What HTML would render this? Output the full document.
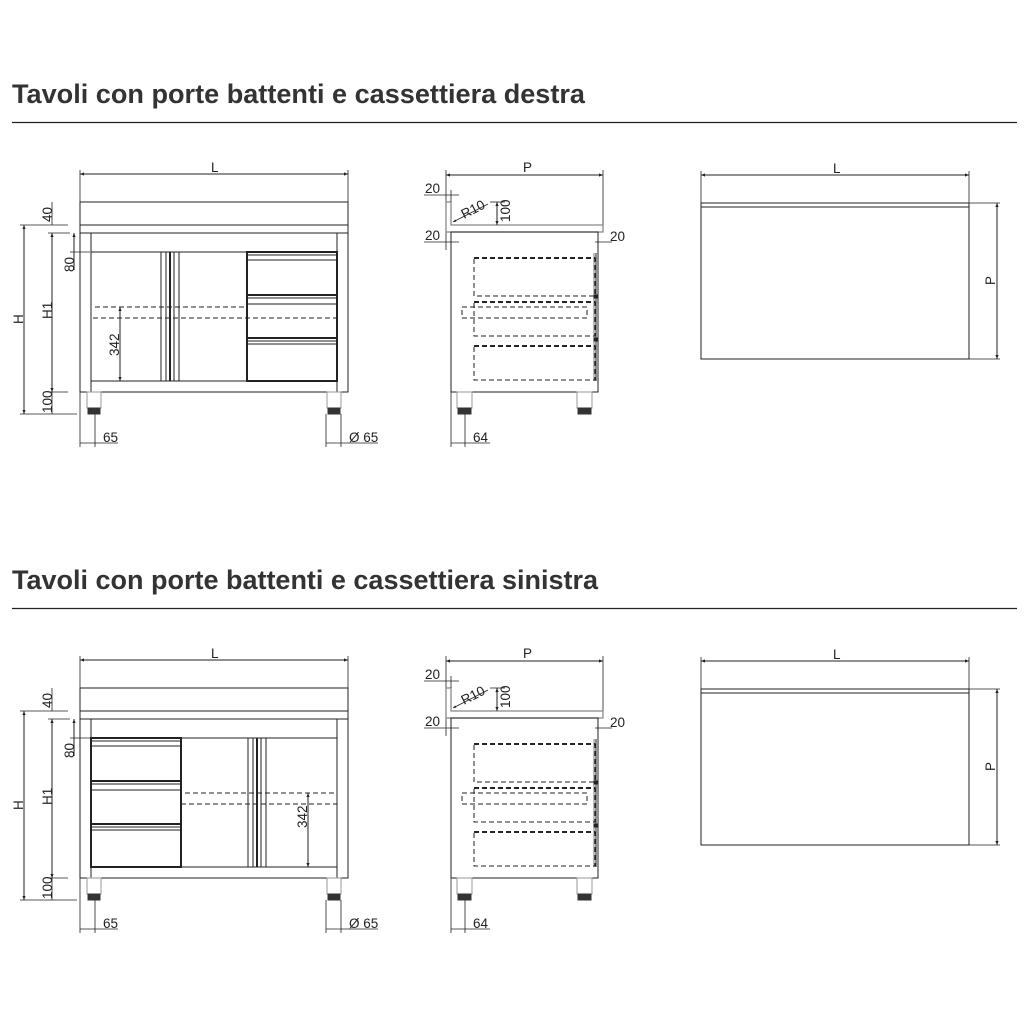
<!DOCTYPE html>
<html><head><meta charset="utf-8"><style>
html,body{margin:0;padding:0;background:#fff;width:1029px;height:1031px;overflow:hidden}
svg{display:block}
text{font-family:"Liberation Sans",Arial,sans-serif;fill:#222}
</style></head><body>
<svg width="1029" height="1031" viewBox="0 0 1029 1031" xmlns="http://www.w3.org/2000/svg">
<defs>
<marker id="a" viewBox="0 0 10 10" refX="10" refY="5" markerWidth="6" markerHeight="4" orient="auto-start-reverse"><path d="M0,1 L10,5 L0,9z" fill="#222"/></marker>

<g id="side" fill="none" stroke="#222" stroke-width="1">
  <line x1="446" y1="175" x2="603" y2="175" marker-start="url(#a)" marker-end="url(#a)"/>
  <line x1="446" y1="170" x2="446" y2="250" stroke-width="0.8"/>
  <line x1="603" y1="170" x2="603" y2="232" stroke-width="0.8"/>
  <path d="M446,202 L451,202 L451,225 L603,225 L603,232 L446,232 Z" stroke="#888" stroke-width="1.3"/>
  <rect x="451" y="232" width="147" height="160"/>
  <g stroke-dasharray="5,3">
    <rect x="474" y="258" width="121" height="38"/>
    <rect x="474" y="302" width="121" height="34"/>
    <rect x="474" y="346" width="121" height="34"/>
    <rect x="462" y="307" width="125" height="11"/>
  </g>
  <g stroke-dasharray="5,3" stroke-width="2">
    <line x1="474" y1="258" x2="595" y2="258"/>
    <line x1="474" y1="302" x2="595" y2="302"/>
    <line x1="474" y1="346" x2="595" y2="346"/>
  </g>
  <line x1="596" y1="253" x2="596" y2="381"/>
  <line x1="594" y1="253" x2="594" y2="381" stroke-width="0.6"/>
  <rect x="594" y="295" width="3" height="3" fill="#222"/>
  <rect x="594" y="338" width="3" height="3" fill="#222"/>
  <rect x="457" y="392" width="15" height="16" stroke="#999"/>
  <rect x="458" y="408" width="13" height="6" fill="#333" stroke="#333"/>
  <rect x="577" y="392" width="15" height="16" stroke="#999"/>
  <rect x="578" y="408" width="13" height="6" fill="#333" stroke="#333"/>
  <line x1="424" y1="195" x2="459" y2="195" stroke-width="0.8"/>
  <line x1="451" y1="190" x2="451" y2="202" stroke-width="0.8"/>
  <line x1="424" y1="242" x2="459" y2="242" stroke-width="0.8"/>
  <line x1="451" y1="236" x2="451" y2="252" stroke-width="0.8"/>
  <line x1="595" y1="242" x2="612" y2="242" stroke-width="0.8"/>
  <line x1="598" y1="236" x2="598" y2="250" stroke-width="0.8"/>
  <line x1="453" y1="222" x2="488" y2="204" stroke-width="0.8" marker-start="url(#a)"/>
  <line x1="497" y1="202" x2="497" y2="225" marker-start="url(#a)" marker-end="url(#a)"/>
  <line x1="490" y1="202" x2="505" y2="202" stroke-width="0.8"/>
  <line x1="451" y1="392" x2="451" y2="447" stroke-width="0.8"/>
  <line x1="465" y1="414" x2="465" y2="447" stroke-width="0.8"/>
  <line x1="451" y1="443" x2="490" y2="443" stroke-width="0.8"/>
</g>
<g id="sidet" font-size="13.5">
  <text x="425" y="193">20</text>
  <text x="425" y="240">20</text>
  <text x="610" y="241">20</text>
  <text x="523" y="172">P</text>
  <text x="473" y="442">64</text>
  <text transform="translate(464,219) rotate(-27)">R10</text>
  <text transform="translate(510,222) rotate(-90)">100</text>
</g>

<g id="topv" fill="none" stroke="#222" stroke-width="1">
  <line x1="701" y1="175" x2="969" y2="175" marker-start="url(#a)" marker-end="url(#a)"/>
  <line x1="701" y1="171" x2="701" y2="203" stroke-width="0.8"/>
  <line x1="969" y1="171" x2="969" y2="203" stroke-width="0.8"/>
  <rect x="701" y="203" width="268" height="156"/>
  <line x1="701" y1="207" x2="969" y2="207"/>
  <line x1="997" y1="203" x2="997" y2="359" marker-start="url(#a)" marker-end="url(#a)"/>
  <line x1="969" y1="203" x2="1000" y2="203" stroke-width="0.8"/>
  <line x1="969" y1="359" x2="1000" y2="359" stroke-width="0.8"/>
</g>
<g id="topt" font-size="13.5">
  <text x="833" y="173">L</text>
  <text transform="translate(995,285) rotate(-90)">P</text>
</g>

<g id="frame" fill="none" stroke="#222" stroke-width="1">
  <line x1="80" y1="174" x2="348" y2="174" marker-start="url(#a)" marker-end="url(#a)"/>
  <line x1="80" y1="170" x2="80" y2="202" stroke-width="0.8"/>
  <line x1="348" y1="170" x2="348" y2="202" stroke-width="0.8"/>
  <rect x="80" y="202" width="268" height="23"/>
  <rect x="80" y="225" width="268" height="8"/>
  <rect x="80" y="233" width="268" height="159"/>
  <line x1="91" y1="233" x2="91" y2="392"/>
  <line x1="337" y1="233" x2="337" y2="392"/>
  <rect x="91" y="252" width="246" height="129"/>
  <rect x="87" y="392" width="14" height="16" stroke="#999"/>
  <rect x="88" y="408" width="12" height="6" fill="#333" stroke="#333"/>
  <rect x="327" y="392" width="14" height="16" stroke="#999"/>
  <rect x="328" y="408" width="12" height="6" fill="#333" stroke="#333"/>
  <line x1="24" y1="225" x2="24" y2="414" marker-start="url(#a)" marker-end="url(#a)"/>
  <line x1="20" y1="225" x2="68" y2="225" stroke-width="0.8"/>
  <line x1="20" y1="414" x2="77" y2="414" stroke-width="0.8"/>
  <line x1="52" y1="233" x2="52" y2="392" marker-start="url(#a)" marker-end="url(#a)"/>
  <line x1="52" y1="202" x2="52" y2="225" stroke-width="0.8"/>
  <line x1="48" y1="233" x2="70" y2="233" stroke-width="0.8"/>
  <line x1="48" y1="392" x2="68" y2="392" stroke-width="0.8"/>
  <line x1="52" y1="392" x2="52" y2="414" stroke-width="0.8"/>
  <line x1="74" y1="233" x2="74" y2="270" marker-start="url(#a)"/>
  <line x1="70" y1="252" x2="90" y2="252" stroke-width="0.8"/>
  <line x1="80" y1="392" x2="80" y2="447" stroke-width="0.8"/>
  <line x1="95" y1="414" x2="95" y2="447" stroke-width="0.8"/>
  <line x1="80" y1="443" x2="118" y2="443" stroke-width="0.8"/>
  <line x1="326" y1="414" x2="326" y2="447" stroke-width="0.8"/>
  <line x1="341" y1="414" x2="341" y2="447" stroke-width="0.8"/>
  <line x1="326" y1="443" x2="378" y2="443" stroke-width="0.8"/>
</g>
<g id="framet" font-size="13.5">
  <text x="211" y="172">L</text>
  <text transform="translate(23,324) rotate(-90)">H</text>
  <text transform="translate(52,319) rotate(-90)">H1</text>
  <text transform="translate(52,222) rotate(-90)">40</text>
  <text transform="translate(52,413) rotate(-90)">100</text>
  <text transform="translate(74,272) rotate(-90)">80</text>
  <text x="103" y="442">65</text>
  <text x="349" y="442">Ø 65</text>
</g>

<g id="drawers" fill="none" stroke="#222">
  <rect x="0" y="252" width="90" height="129" stroke-width="2"/>
  <line x1="0" y1="255" x2="90" y2="255"/>
  <line x1="0" y1="260" x2="90" y2="260"/>
  <line x1="0" y1="295" x2="90" y2="295" stroke-width="2"/>
  <line x1="0" y1="298" x2="90" y2="298"/>
  <line x1="0" y1="304" x2="90" y2="304"/>
  <line x1="0" y1="338" x2="90" y2="338" stroke-width="2"/>
  <line x1="0" y1="341" x2="90" y2="341"/>
  <line x1="0" y1="344" x2="90" y2="344"/>
</g>
<g id="stiles" stroke="#222" stroke-width="1">
  <line x1="0" y1="252" x2="0" y2="381"/>
  <line x1="5" y1="252" x2="5" y2="381"/>
  <line x1="9" y1="252" x2="9" y2="381" stroke-width="2"/>
  <line x1="13" y1="252" x2="13" y2="381"/>
  <line x1="18" y1="252" x2="18" y2="381"/>
</g>
</defs>

<text x="12" y="103" font-size="27" font-weight="bold" style="fill:#333" textLength="573" lengthAdjust="spacingAndGlyphs">Tavoli con porte battenti e cassettiera destra</text>
<line x1="12" y1="122.5" x2="1017" y2="122.5" stroke="#222" stroke-width="1.2"/>
<text x="12" y="589" font-size="27" font-weight="bold" style="fill:#333" textLength="586" lengthAdjust="spacingAndGlyphs">Tavoli con porte battenti e cassettiera sinistra</text>
<line x1="12" y1="608.5" x2="1017" y2="608.5" stroke="#222" stroke-width="1.2"/>

<use href="#side"/><use href="#sidet"/><use href="#topv"/><use href="#topt"/><use href="#frame"/><use href="#framet"/>
<use href="#drawers" x="247"/>
<use href="#stiles" x="161"/>
<g fill="none" stroke="#222" stroke-width="1">
  <line x1="247" y1="252" x2="247" y2="381" stroke-width="2"/>
  <line x1="95" y1="307" x2="245" y2="307" stroke-dasharray="5,3"/>
  <line x1="93" y1="318" x2="337" y2="318" stroke-dasharray="5,3"/>
  <line x1="120" y1="307" x2="120" y2="381" marker-start="url(#a)" marker-end="url(#a)"/>
</g>
<text transform="translate(119,356) rotate(-90)" font-size="13.5">342</text>

<g transform="translate(0,486)">
<use href="#side"/><use href="#sidet"/><use href="#topv"/><use href="#topt"/><use href="#frame"/><use href="#framet"/>
<use href="#drawers" x="91"/>
<use href="#stiles" x="248"/>
<g fill="none" stroke="#222" stroke-width="1">
  <line x1="185" y1="307" x2="337" y2="307" stroke-dasharray="5,3"/>
  <line x1="181" y1="318" x2="337" y2="318" stroke-dasharray="5,3"/>
  <line x1="308" y1="307" x2="308" y2="381" marker-start="url(#a)" marker-end="url(#a)"/>
</g>
<text transform="translate(307,342) rotate(-90)" font-size="13.5">342</text>
</g>
</svg>
</body></html>
